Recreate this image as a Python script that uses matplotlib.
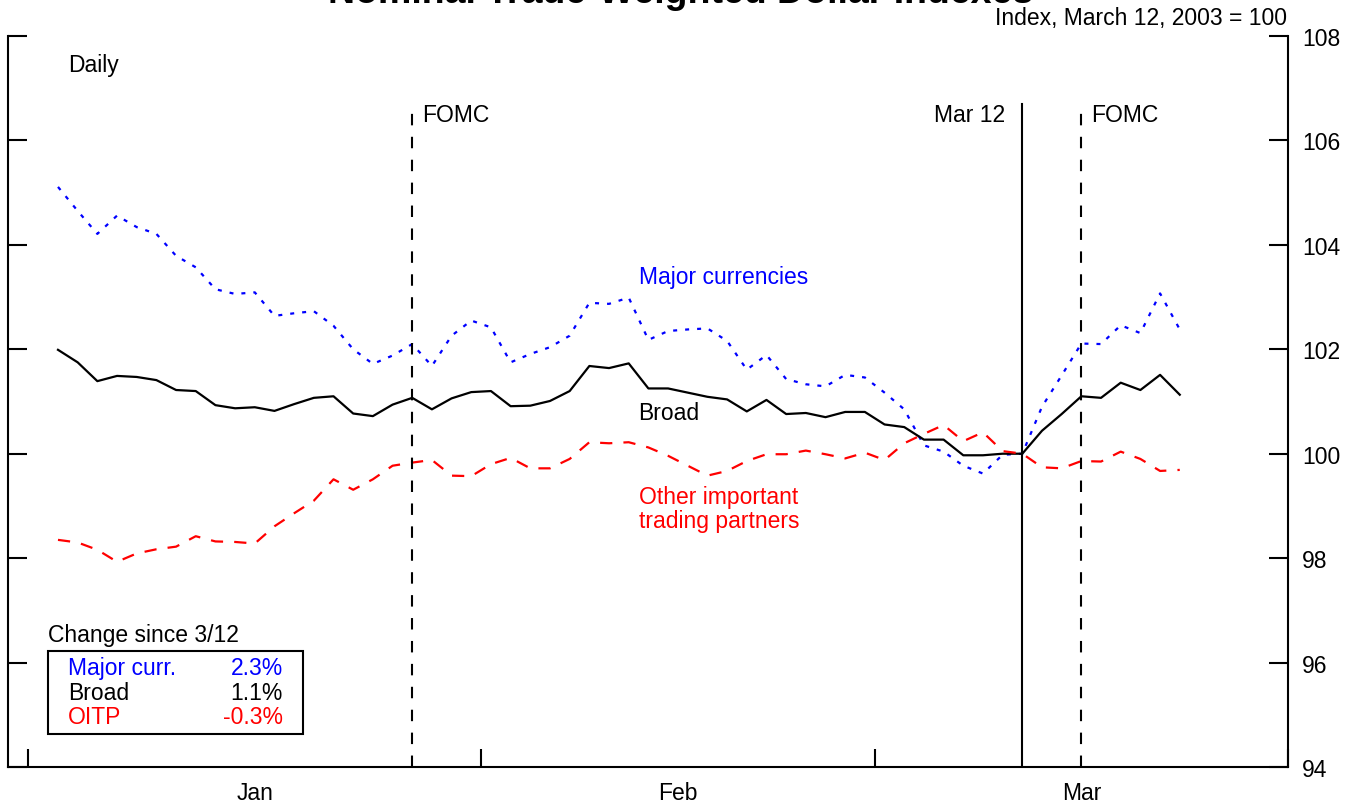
import numpy as np
import pandas as pd
import matplotlib
matplotlib.use("Agg")
import matplotlib.pyplot as plt
from matplotlib.patches import Rectangle

plt.rcParams["font.family"] = ["Liberation Sans", "DejaVu Sans"]

# Daily index values, Jan 2 - Mar 24 2003 (business days), Mar 12 = 100
dates = pd.bdate_range("2003-01-02", "2003-03-24")

major = [105.11, 104.65, 104.21, 104.56, 104.34, 104.21, 103.79, 103.57, 103.15, 103.06,
         103.09, 102.64, 102.69, 102.73, 102.45, 102.00, 101.72, 101.88, 102.10, 101.68,
         102.26, 102.55, 102.42, 101.75, 101.91, 102.04, 102.26, 102.89, 102.87, 102.99,
         102.18, 102.35, 102.38, 102.40, 102.16, 101.61, 101.89, 101.43, 101.33, 101.29,
         101.51, 101.46, 101.17, 100.85, 100.16, 100.04, 99.77, 99.62, 99.98, 100.00,
         100.90, 101.50, 102.11, 102.10, 102.46, 102.31, 103.07, 102.38]

broad = [101.99, 101.75, 101.39, 101.49, 101.47, 101.41, 101.22, 101.20, 100.93, 100.87,
         100.89, 100.82, 100.95, 101.07, 101.10, 100.77, 100.72, 100.94, 101.07, 100.85,
         101.06, 101.18, 101.20, 100.91, 100.92, 101.01, 101.20, 101.68, 101.64, 101.73,
         101.25, 101.25, 101.17, 101.09, 101.04, 100.81, 101.03, 100.76, 100.78, 100.70,
         100.80, 100.80, 100.56, 100.51, 100.27, 100.27, 99.97, 99.97, 100.00, 100.00,
         100.44, 100.76, 101.10, 101.07, 101.36, 101.22, 101.51, 101.13]

oitp = [98.35, 98.30, 98.16, 97.93, 98.09, 98.17, 98.22, 98.42, 98.32, 98.31,
        98.28, 98.61, 98.86, 99.10, 99.51, 99.31, 99.51, 99.77, 99.83, 99.88,
        99.58, 99.57, 99.80, 99.92, 99.72, 99.72, 99.90, 100.22, 100.20, 100.22,
        100.12, 99.96, 99.77, 99.58, 99.67, 99.86, 99.99, 99.99, 100.06, 99.99,
        99.91, 100.02, 99.88, 100.20, 100.38, 100.55, 100.24, 100.41, 100.05, 100.00,
        99.74, 99.72, 99.86, 99.85, 100.04, 99.90, 99.67, 99.69]

fomc_dates = ["2003-01-28", "2003-03-17"]
base_date = "2003-03-12"
month_starts = ["2003-01-01", "2003-02-03", "2003-03-03", "2003-04-01"]
month_labels = ["Jan", "Feb", "Mar"]

box_names = ["Major curr.", "Broad", "OITP"]
box_changes = ["2.3%", "1.1%", "-0.3%"]
box_colors = ["#0000ff", "black", "#ff0000"]

FS = 16.5

# x axis runs on business days, Jan 1 = 0
weekdays = pd.bdate_range("2003-01-01", "2003-04-01")
pos = {d: i for i, d in enumerate(weekdays)}
x = [pos[d] for d in dates]
bounds = [pos[pd.Timestamp(d)] - 0.5 for d in month_starts]
centers = [(a + b) / 2 for a, b in zip(bounds[:-1], bounds[1:])]

W, H = 1362, 804
fig = plt.figure(figsize=(W / 100, H / 100), dpi=100)
ax = fig.add_axes([8 / W, 36 / H, 1280 / W, 731 / H])

ax.plot(x, major, color="#0000ff", lw=1.6, linestyle=(0, (1.8, 3.6)))
ax.plot(x, broad, color="black", lw=1.6)
ax.plot(x, oitp, color="#ff0000", lw=1.6, linestyle=(0, (5.5, 5.0)))

top = 106.7
for d in fomc_dates:
    xv = pos[pd.Timestamp(d)]
    ax.plot([xv, xv], [94, top], color="black", lw=1.5, linestyle=(0, (5.5, 5.5)))
    ax.text(xv + 0.5, 106.5, "FOMC", fontsize=FS, va="center", ha="left")
xb = pos[pd.Timestamp(base_date)]
ax.plot([xb, xb], [94, top], color="black", lw=1.5)
ax.text(xb - 0.85, 106.5, "Mar 12", fontsize=FS, va="center", ha="right")

ax.set_xlim(-1.54, 63.5)
ax.set_ylim(94, 108)

ax.spines["top"].set_visible(False)
for s in ["left", "right", "bottom"]:
    ax.spines[s].set_linewidth(1.5)

ax.set_yticks(np.arange(94, 109, 2))
ax.tick_params(axis="y", which="major", direction="in", length=14, width=1.5,
               left=True, right=True, labelleft=False, labelright=True,
               labelsize=FS, pad=10)
ax.set_xticks(bounds)
ax.set_xticklabels([])
ax.tick_params(axis="x", which="major", direction="in", length=13, width=1.5)
ax.set_xticks(centers, minor=True)
ax.set_xticklabels(month_labels, minor=True)
ax.tick_params(axis="x", which="minor", length=0, labelsize=FS, pad=10)

ax.text(1.5, 107.46, "Daily", fontsize=FS, va="center")
ax.text(30.5, 103.40, "Major currencies", color="#0000ff", fontsize=FS, va="center")
ax.text(30.5, 100.78, "Broad", color="black", fontsize=FS, va="center")
ax.text(30.5, 98.95, "Other important\ntrading partners", color="#ff0000", fontsize=FS,
        va="center", linespacing=1.05)

# change box
fig.text(48 / W, 1 - 636 / H, "Change since 3/12", fontsize=FS, va="center")
fig.patches.append(Rectangle((48 / W, 1 - 735 / H), 255 / W, 83 / H, fill=False,
                             lw=1.5, edgecolor="black", transform=fig.transFigure))
for i, (n, c, col) in enumerate(zip(box_names, box_changes, box_colors)):
    yy = 1 - (669 + 24.5 * i) / H
    fig.text(68 / W, yy, n, color=col, fontsize=FS, va="center")
    fig.text(283 / W, yy, c, color=col, fontsize=FS, va="center", ha="right")

fig.text(1287 / W, 1 - 19 / H, "Index, March 12, 2003 = 100", fontsize=FS,
         va="center", ha="right")
# title sits mostly above the top edge, as in the source picture
fig.text(0.5, 1 - 3 / H, "Nominal Trade-Weighted Dollar Indexes", fontsize=27,
         fontweight="bold", ha="center", va="baseline")

fig.savefig("out.png", dpi=100)
